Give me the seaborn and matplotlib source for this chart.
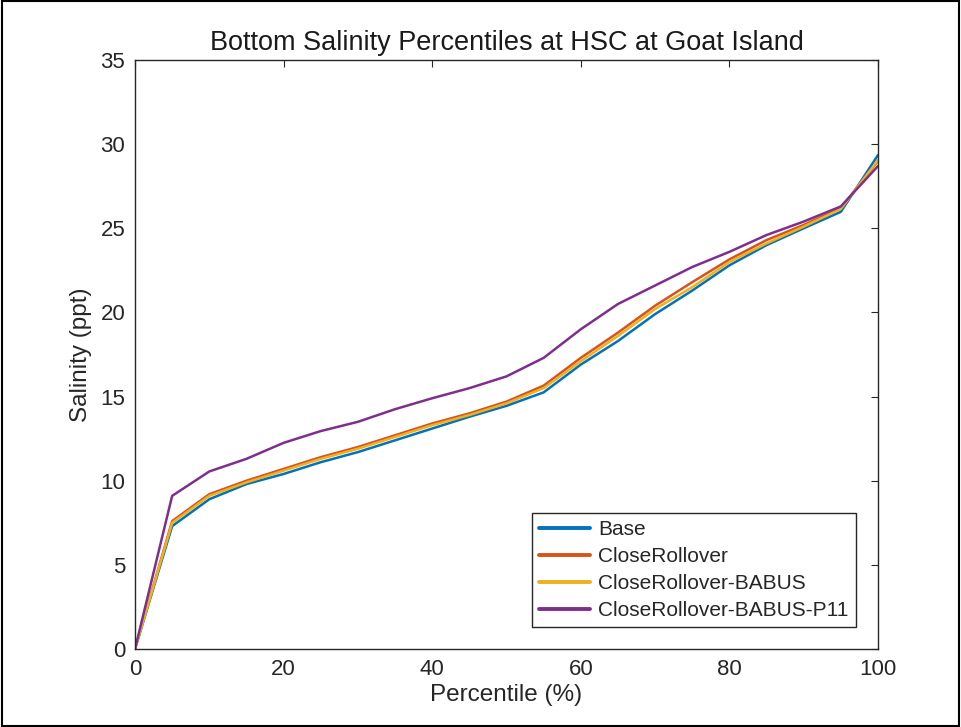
import numpy as np
import pandas as pd
import matplotlib
matplotlib.use("Agg")
import matplotlib.pyplot as plt
import seaborn as sns

percentile = [0, 5, 10, 15, 20, 25, 30, 35, 40, 45, 50, 55, 60, 65, 70, 75, 80, 85, 90, 95, 100]
base = [0, 7.3, 8.9, 9.8, 10.4, 11.1, 11.7, 12.4, 13.1, 13.8, 14.45, 15.25, 16.9, 18.3, 19.9, 21.3, 22.8, 24.0, 25.0, 25.98, 29.35]
close_rollover = [0, 7.6, 9.2, 10.0, 10.7, 11.4, 12.0, 12.7, 13.4, 14.0, 14.7, 15.65, 17.3, 18.8, 20.4, 21.8, 23.15, 24.3, 25.2, 26.2, 29.0]
close_rollover_babus = [0, 7.5, 9.1, 9.9, 10.6, 11.3, 11.9, 12.6, 13.3, 13.9, 14.6, 15.5, 17.1, 18.6, 20.2, 21.5, 23.0, 24.1, 25.1, 26.15, 29.05]
close_rollover_babus_p11 = [0, 9.1, 10.55, 11.3, 12.25, 12.95, 13.5, 14.25, 14.9, 15.5, 16.2, 17.3, 19.0, 20.5, 21.6, 22.7, 23.6, 24.6, 25.4, 26.3, 28.7]

series_names = ["Base", "CloseRollover", "CloseRollover-BABUS", "CloseRollover-BABUS-P11"]
series_values = [base, close_rollover, close_rollover_babus, close_rollover_babus_p11]
colors = ["#0072BD", "#D95319", "#EDB120", "#7E2F8E"]

x_ticks = [0, 20, 40, 60, 80, 100]
y_ticks = [0, 5, 10, 15, 20, 25, 30, 35]

df = pd.DataFrame({
    "Percentile": np.tile(percentile, len(series_names)),
    "Salinity": np.concatenate(series_values),
    "Scenario": np.repeat(series_names, len(percentile)),
})

sns.set_style("white")
plt.rcParams["font.family"] = ["Liberation Sans", "DejaVu Sans"]

fig = plt.figure(figsize=(9.61, 7.27), dpi=100)
ax = fig.add_axes([135 / 961, 1 - 649 / 727, (878 - 135) / 961, (649 - 60) / 727])

sns.lineplot(data=df, x="Percentile", y="Salinity", hue="Scenario",
             hue_order=series_names, palette=colors, linewidth=1.8, ax=ax,
             sort=False, estimator=None)

ax.set_xlim(0, 100)
ax.set_ylim(0, 35)
ax.set_xticks(x_ticks)
ax.set_yticks(y_ticks)
ax.tick_params(direction="in", length=5, width=0.8, labelsize=16, colors="#262626",
               top=True, right=True, pad=7)
for s in ax.spines.values():
    s.set_visible(True)
    s.set_color("#262626")
    s.set_linewidth(1.0)

ax.set_xlabel("Percentile (%)", fontsize=17.5, color="#262626", labelpad=3)
ax.set_ylabel("Salinity (ppt)", fontsize=17.5, color="#262626", labelpad=6)
ax.set_title("Bottom Salinity Percentiles at HSC at Goat Island", fontsize=19.5,
             color="#1a1a1a", pad=7)

leg = ax.legend(loc="lower right", fontsize=15, frameon=True, fancybox=False,
                framealpha=1, edgecolor="#262626", handlelength=2.45,
                handletextpad=0.4, labelspacing=0.38, borderpad=0.35,
                borderaxespad=1.05)
leg.get_frame().set_linewidth(1.0)
for h in leg.get_lines():
    h.set_linewidth(2.8)

# outer border around the figure
fig.patches.append(matplotlib.patches.Rectangle((0.002, 0.002), 0.996, 0.996,
                   transform=fig.transFigure, fill=False, edgecolor="black",
                   linewidth=1.5))

fig.savefig("out.png", dpi=100)
